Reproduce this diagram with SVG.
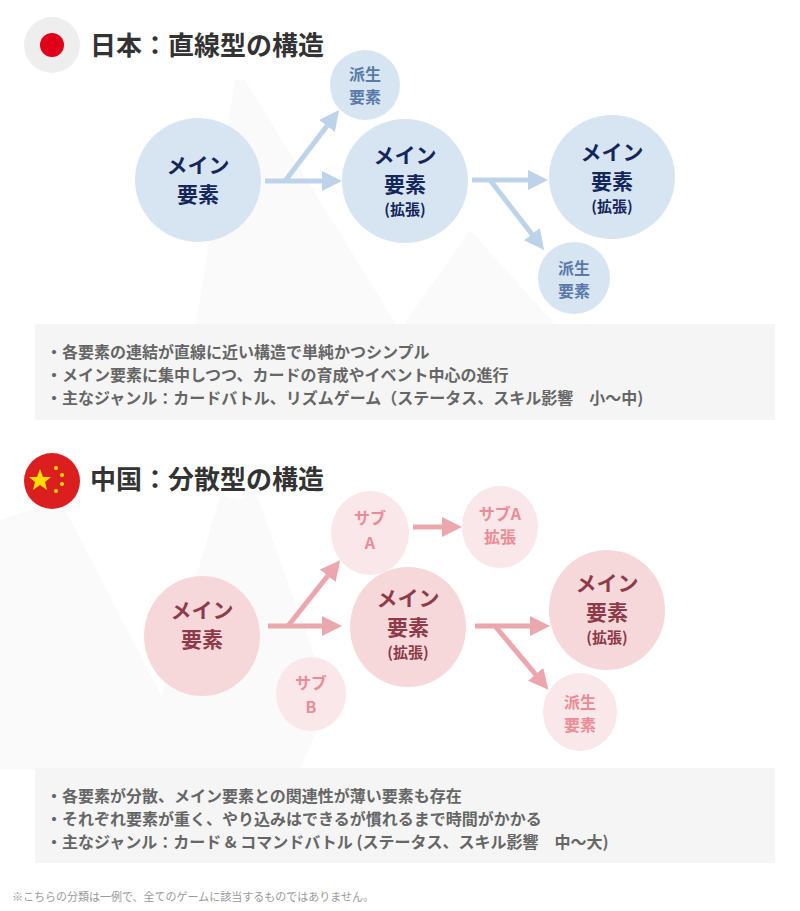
<svg xmlns="http://www.w3.org/2000/svg" width="800" height="911" viewBox="0 0 800 911">
<style>
text{font-family:"Noto Sans CJK JP","Noto Sans",sans-serif;font-weight:bold;text-anchor:middle}
.t{font-size:26px;fill:#333;text-anchor:start}
.b{fill:#d7e5f3}
.bm{font-size:21px;fill:#15275a}
.bs{font-size:15px;fill:#15275a}
.bd{font-size:16px;fill:#5a7aa8}
.p{fill:#f6d8db}
.pl{fill:#fae7e9}
.pm{font-size:21px;fill:#8e3a48}
.ps{font-size:15px;fill:#8e3a48}
.pd{font-size:16px;fill:#e98c95}
.box{fill:#f5f5f5}
.l{font-size:16px;fill:#666;text-anchor:start}
.ab{stroke:#bcd3ea;stroke-width:5;fill:none}
.ap{stroke:#eba7ad;stroke-width:5;fill:none}
</style>
<defs>
<marker id="mb" markerWidth="4" markerHeight="4" refX="2" refY="2" orient="auto"><path d="M0,0L4,2L0,4z" fill="#bcd3ea"/></marker>
<marker id="mp" markerWidth="4" markerHeight="4" refX="2" refY="2" orient="auto"><path d="M0,0L4,2L0,4z" fill="#eba7ad"/></marker>
</defs>
<rect width="800" height="911" fill="#fff"/>
<g fill="#fafafa">
<path d="M195,330L235,80L245,80L400,330z"/><path d="M400,330L470,230L560,330z"/>
<path d="M0,520L60,500L200,770L0,770z"/><path d="M140,770L220,495L240,500L255,490L330,700L300,770z"/>
</g>
<g id="jp-title"><circle cx="52" cy="45" r="28" fill="#eeeeee"/><circle cx="52" cy="45" r="12" fill="#e0001a"/><text class="t" x="90" y="55">日本：直線型の構造</text></g>
<g id="jp-connectors">
<path class="ab" d="M265,181H332" marker-end="url(#mb)"/><path class="ab" d="M285,181L333,118" marker-end="url(#mb)"/>
<path class="ab" d="M472,180H538" marker-end="url(#mb)"/><path class="ab" d="M490,180L538,242" marker-end="url(#mb)"/>
</g>
<g id="jp-main1"><ellipse class="b" cx="198" cy="180" rx="63" ry="62"/><text class="bm" x="198" y="173">メイン</text><text class="bm" x="198" y="202">要素</text></g>
<g id="jp-der1"><circle class="b" cx="365" cy="85" r="35"/><text class="bd" x="365" y="80">派生</text><text class="bd" x="365" y="103">要素</text></g>
<g id="jp-main2"><ellipse class="b" cx="405" cy="181" rx="63" ry="62"/><text class="bm" x="405" y="163">メイン</text><text class="bm" x="405" y="192">要素</text><text class="bs" x="405" y="215">(拡張)</text></g>
<g id="jp-main3"><ellipse class="b" cx="612" cy="177" rx="63" ry="62"/><text class="bm" x="612" y="160">メイン</text><text class="bm" x="612" y="189">要素</text><text class="bs" x="612" y="212">(拡張)</text></g>
<g id="jp-der2"><circle class="b" cx="574" cy="278" r="36"/><text class="bd" x="574" y="274">派生</text><text class="bd" x="574" y="297">要素</text></g>
<rect class="box" x="35" y="324" width="740" height="96"/>
<text class="l" x="46" y="358">・各要素の連結が直線に近い構造で単純かつシンプル</text>
<text class="l" x="46" y="381">・メイン要素に集中しつつ、カードの育成やイベント中心の進行</text>
<text class="l" x="46" y="404">・主なジャンル：カードバトル、リズムゲーム（ステータス、スキル影響　小～中)</text>
<g id="cn-title"><circle cx="52" cy="481" r="28" fill="#db1f1f"/>
<g fill="#ffdc00"><polygon points="40,469 43,477 51,477 45,482 47,490 40,485 33,490 35,482 29,477 37,477"/><circle cx="56" cy="468" r="2"/><circle cx="62" cy="475" r="2"/><circle cx="62" cy="484" r="2"/><circle cx="56" cy="491" r="2"/></g>
<text class="t" x="90" y="489">中国：分散型の構造</text></g>
<g id="cn-connectors">
<path class="ap" d="M268,626H332" marker-end="url(#mp)"/><path class="ap" d="M288,626L334,568" marker-end="url(#mp)"/>
<path class="ap" d="M413,527H452" marker-end="url(#mp)"/>
<path class="ap" d="M475,626H540" marker-end="url(#mp)"/><path class="ap" d="M495,626L542,682" marker-end="url(#mp)"/>
</g>
<g id="cn-main1"><ellipse class="p" cx="202" cy="636" rx="58" ry="60"/><text class="pm" x="202" y="618">メイン</text><text class="pm" x="202" y="647">要素</text></g>
<g id="cn-subA"><ellipse class="pl" cx="370" cy="533" rx="39" ry="42"/><text class="pd" x="370" y="524">サブ</text><text class="pd" x="370" y="549">A</text></g>
<g id="cn-subAx"><ellipse class="pl" cx="500" cy="527" rx="38" ry="41"/><text class="pd" x="500" y="520">サブA</text><text class="pd" x="500" y="543">拡張</text></g>
<g id="cn-main2"><ellipse class="p" cx="408" cy="627" rx="58" ry="60"/><text class="pm" x="408" y="606">メイン</text><text class="pm" x="408" y="635">要素</text><text class="ps" x="408" y="658">(拡張)</text></g>
<g id="cn-main3"><ellipse class="p" cx="607" cy="610" rx="58" ry="60"/><text class="pm" x="607" y="591">メイン</text><text class="pm" x="607" y="620">要素</text><text class="ps" x="607" y="643">(拡張)</text></g>
<g id="cn-subB"><ellipse class="pl" cx="311" cy="694" rx="35" ry="37"/><text class="pd" x="311" y="689">サブ</text><text class="pd" x="311" y="713">B</text></g>
<g id="cn-der"><ellipse class="pl" cx="580" cy="712" rx="37" ry="39"/><text class="pd" x="580" y="708">派生</text><text class="pd" x="580" y="731">要素</text></g>
<rect class="box" x="35" y="768" width="740" height="95"/>
<text class="l" x="46" y="802">・各要素が分散、メイン要素との関連性が薄い要素も存在</text>
<text class="l" x="46" y="825">・それぞれ要素が重く、やり込みはできるが慣れるまで時間がかかる</text>
<text class="l" x="46" y="848">・主なジャンル：カード &amp; コマンドバトル (ステータス、スキル影響　中～大)</text>
<text x="12" y="901" style="font-size:11px;fill:#999;text-anchor:start;font-weight:normal">※こちらの分類は一例で、全てのゲームに該当するものではありません。</text>
</svg>
